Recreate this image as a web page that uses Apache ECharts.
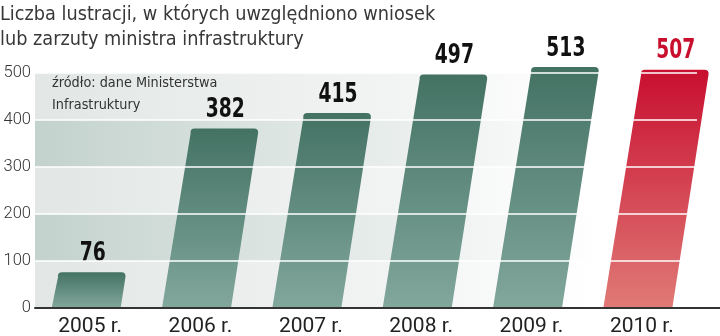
<!DOCTYPE html>
<html><head><meta charset="utf-8">
<script src="https://cdn.jsdelivr.net/npm/echarts@6/dist/echarts.min.js"></script>
<style>html,body{margin:0;padding:0;background:#fff}#c{width:720px;height:336px}</style>
</head><body><div id="c"></div>
<script>
var categories = ['2005 r.', '2006 r.', '2007 r.', '2008 r.', '2009 r.', '2010 r.'];
var values = [76, 382, 415, 497, 513, 507];
var highlight = [false, false, false, false, false, true];
var yTicks = [0, 100, 200, 300, 400, 500];
var titleLines = ['Liczba lustracji, w których uwzględniono wniosek', 'lub zarzuty ministra infrastruktury'];
var sourceLines = ['źródło: dane Ministerstwa', 'Infrastruktury'];

var chart = echarts.init(document.getElementById('c'), null, {renderer: 'canvas'});
var narrow = '"DejaVu Sans Condensed", "Liberation Sans Narrow", Roboto, sans-serif';

function band(dark) {
  return new echarts.graphic.LinearGradient(0, 0, 1, 0, dark ? [
    {offset: 0, color: '#c3d2cd'}, {offset: 0.55, color: '#e9eeec'}, {offset: 0.85, color: '#ffffff'}, {offset: 1, color: '#ffffff'}
  ] : [
    {offset: 0, color: '#e2e7e5'}, {offset: 0.55, color: '#f2f4f3'}, {offset: 0.85, color: '#ffffff'}, {offset: 1, color: '#ffffff'}
  ]);
}

var SLOPE = 0.155;
function renderItem(params, api) {
  var idx = api.value(0), val = api.value(1);
  var base = api.coord([idx, 0]);
  var top = api.coord([idx, val]);
  var w = 69, r = 5;
  var cx0 = base[0] - 4;
  var h = base[1] - top[1];
  var cx1 = cx0 + SLOPE * h;
  var bl = cx0 - w / 2, br = cx0 + w / 2, tl = cx1 - w / 2, tr = cx1 + w / 2, ty = top[1], by = base[1];
  var d = 'M' + bl + ' ' + by +
    ' L' + (tl + SLOPE * r) + ' ' + (ty + r) +
    ' Q' + tl + ' ' + ty + ' ' + (tl + r) + ' ' + ty +
    ' L' + (tr - r) + ' ' + ty +
    ' Q' + tr + ' ' + ty + ' ' + (tr - SLOPE * r) + ' ' + (ty + r) +
    ' L' + br + ' ' + by + ' Z';
  var red = highlight[idx];
  var fill = new echarts.graphic.LinearGradient(0, 0, 0, 1, red ? [
    {offset: 0, color: '#c80f30'}, {offset: 1, color: '#e07a76'}
  ] : [
    {offset: 0, color: '#437263'}, {offset: 1, color: '#82a79d'}
  ]);
  return {
    type: 'group',
    children: [
      {type: 'path', shape: {pathData: d}, style: {fill: fill}},
      {type: 'text', x: cx1 + 1, y: ty - 18, scaleX: 0.8, style: {
        text: String(val), fill: red ? '#c8102e' : '#111', font: 'bold 26px ' + narrow,
        align: 'center', verticalAlign: 'middle'
      }}
    ]
  };
}

var seriesData = values.map(function (v, i) { return [i, v]; });

chart.setOption({
  animation: false,
  title: [
    {text: titleLines.join('\n'), left: 0, top: 2, padding: 0, textStyle: {fontFamily: narrow, fontWeight: 'normal', fontSize: 19.7, lineHeight: 25, color: '#383838'}},
    {text: sourceLines.join('\n'), left: 52, top: 72, padding: 0, textStyle: {fontFamily: narrow, fontWeight: 'normal', fontSize: 14.3, lineHeight: 22, color: '#333'}}
  ],
  grid: {left: 35, right: 23, top: 73, bottom: 28, outerBoundsMode: 'none', containLabel: false},
  xAxis: {
    type: 'category', data: categories, z: 11,
    axisTick: {show: false},
    axisLine: {lineStyle: {color: '#333', width: 2}},
    axisLabel: {color: '#222', fontSize: 21, fontFamily: 'Roboto, sans-serif', margin: 8}
  },
  yAxis: [{
    type: 'value', min: 0, max: 500, interval: 100,
    axisLine: {show: false}, axisTick: {show: false},
    axisLabel: {color: '#333', fontSize: 16.5, fontFamily: 'Roboto, sans-serif', margin: 4, fontWeight: 300},
    splitLine: {show: false},
    splitArea: {show: true, areaStyle: {color: [band(false), band(true), band(false), band(true), band(false)]}}
  }, {
    type: 'value', min: 0, max: 500, interval: 100, position: 'left', z: 10,
    axisLine: {show: false}, axisTick: {show: false}, axisLabel: {show: false},
    splitLine: {show: true, lineStyle: {color: '#ffffff', width: 1.5}}
  }],
  graphic: [],
  series: [{
    type: 'custom', renderItem: renderItem, data: seriesData, encode: {x: 0, y: 1}, clip: false, z: 3
  }]
});

var p = chart.convertToPixel({xAxisIndex: 0, yAxisIndex: 0}, [categories.length - 1, 0]);
chart.setOption({graphic: [{type: 'line', z: 20, shape: {x1: p[0], y1: p[1], x2: 720, y2: p[1]}, style: {stroke: '#333', lineWidth: 2}}]});
</script></body></html>
